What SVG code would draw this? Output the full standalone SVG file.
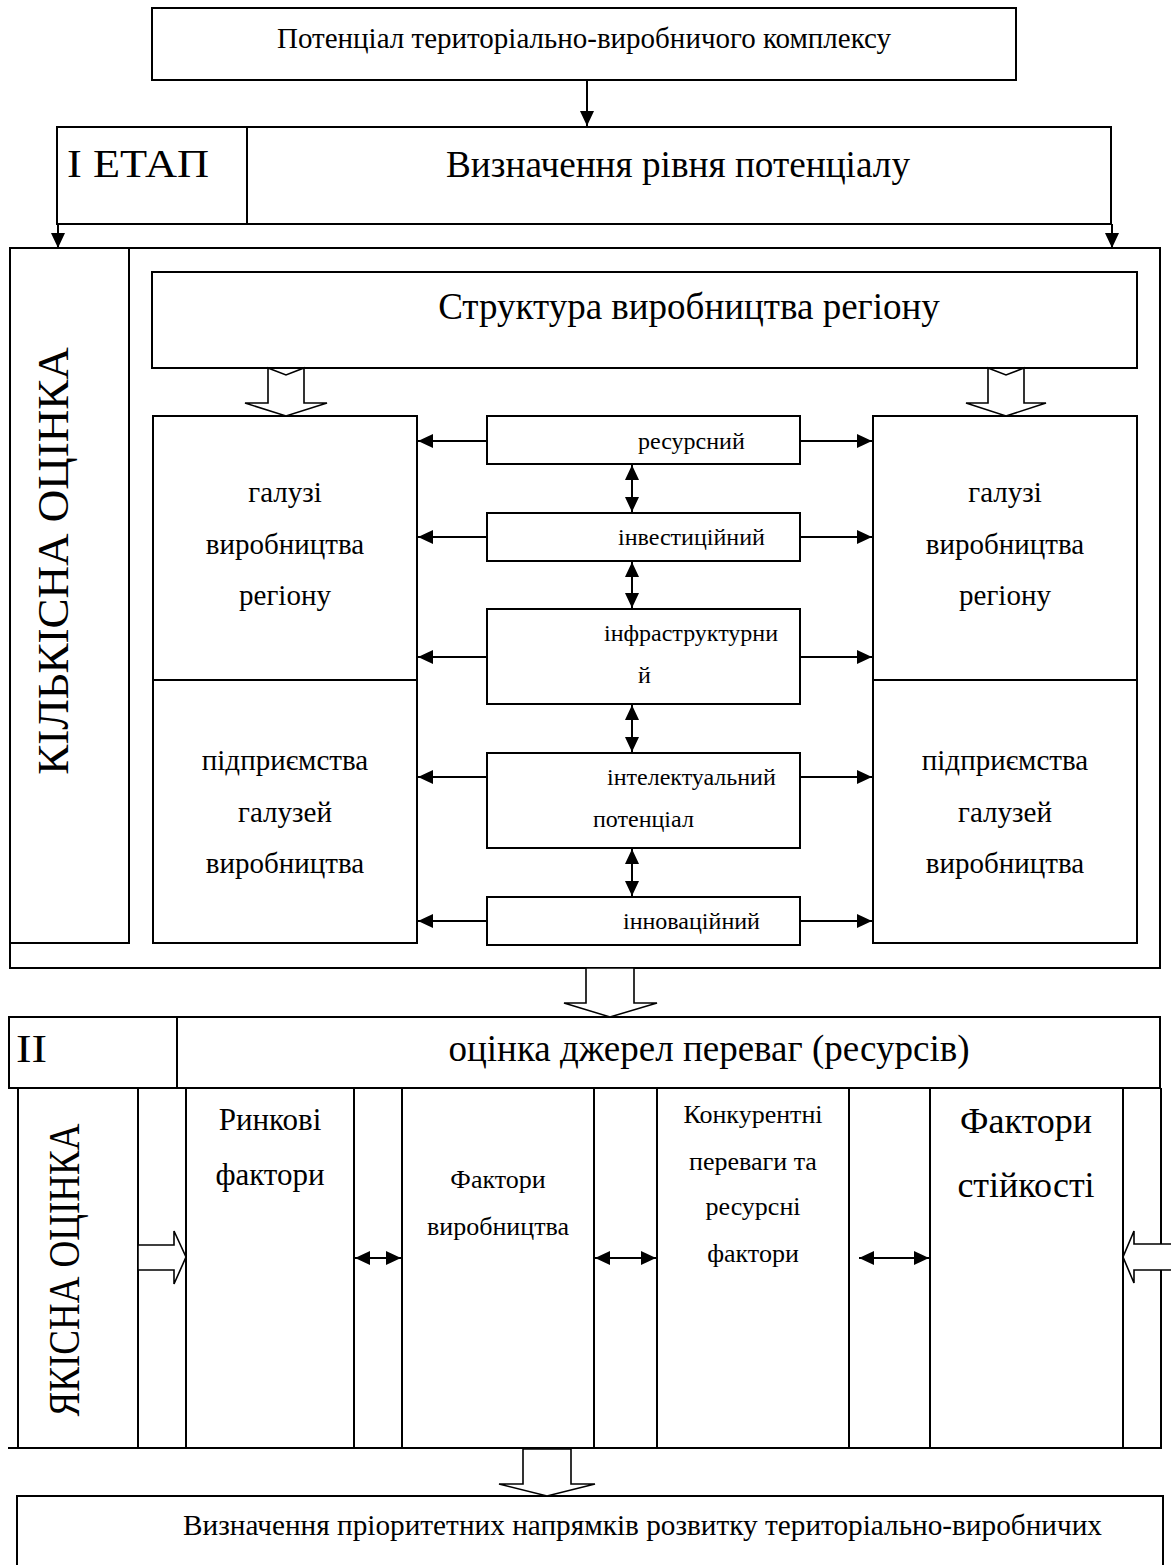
<svg xmlns="http://www.w3.org/2000/svg" width="1171" height="1565" viewBox="0 0 1171 1565">
<style>
.b{fill:none;stroke:#000;stroke-width:2}
.h{fill:#fff;stroke:#000;stroke-width:1.6}
.l{stroke:#000;stroke-width:2;fill:none}
text{font-family:"Liberation Serif","Times New Roman",serif;fill:#000}
.c{text-anchor:middle}
</style>
<defs>
<marker id="ah" markerUnits="userSpaceOnUse" markerWidth="16" markerHeight="14" refX="15" refY="7" orient="auto-start-reverse"><path d="M0,0 L15,7 L0,14 z" fill="#000"/></marker>
</defs>
<rect x="0" y="0" width="1171" height="1565" fill="#fff"/>

<g id="top"><rect class="b" x="152" y="8" width="864" height="72"/><text class="c" x="584" y="48" font-size="29">Потенціал територіально-виробничого комплексу</text></g>

<g id="stage1"><rect class="b" x="57" y="127" width="1054" height="97"/><line class="l" x1="247" y1="127" x2="247" y2="224"/><text class="c" x="138" y="177" font-size="40" textLength="142" lengthAdjust="spacingAndGlyphs">І ЕТАП</text><text class="c" x="678" y="177" font-size="38" textLength="464" lengthAdjust="spacingAndGlyphs">Визначення рівня потенціалу</text></g>

<g id="quant-frame"><rect class="b" x="10" y="248" width="1150" height="720"/><rect class="b" x="10" y="248" width="119" height="695"/><text transform="translate(68,561) rotate(-90)" class="c" font-size="45">КІЛЬКІСНА ОЦІНКА</text></g>

<g id="structure"><rect class="b" x="152" y="272" width="985" height="96"/><text class="c" x="689" y="319" font-size="37">Структура виробництва регіону</text></g>

<g id="left-branches"><rect class="b" x="153" y="416" width="264" height="264"/><text class="c" font-size="29" x="285"><tspan x="285" y="502">галузі</tspan><tspan x="285" y="554">виробництва</tspan><tspan x="285" y="605">регіону</tspan></text></g>
<g id="left-enterprises"><rect class="b" x="153" y="680" width="264" height="263"/><text class="c" font-size="29" x="285"><tspan x="285" y="770">підприємства</tspan><tspan x="285" y="822">галузей</tspan><tspan x="285" y="873">виробництва</tspan></text></g>
<g id="right-branches"><rect class="b" x="873" y="416" width="264" height="264"/><text class="c" font-size="29" x="1005"><tspan x="1005" y="502">галузі</tspan><tspan x="1005" y="554">виробництва</tspan><tspan x="1005" y="605">регіону</tspan></text></g>
<g id="right-enterprises"><rect class="b" x="873" y="680" width="264" height="263"/><text class="c" font-size="29" x="1005"><tspan x="1005" y="770">підприємства</tspan><tspan x="1005" y="822">галузей</tspan><tspan x="1005" y="873">виробництва</tspan></text></g>

<g id="resource"><rect class="b" x="487" y="416" width="313" height="48"/><text x="638" y="449" font-size="24">ресурсний</text></g>
<g id="investment"><rect class="b" x="487" y="513" width="313" height="48"/><text x="618" y="545" font-size="24">інвестиційний</text></g>
<g id="infrastructure"><rect class="b" x="487" y="609" width="313" height="95"/><text x="604" y="641" font-size="24">інфраструктурни</text><text x="638" y="683" font-size="24">й</text></g>
<g id="intellectual"><rect class="b" x="487" y="753" width="313" height="95"/><text x="607" y="785" font-size="24">інтелектуальний</text><text x="593" y="827" font-size="24">потенціал</text></g>
<g id="innovation"><rect class="b" x="487" y="897" width="313" height="48"/><text x="623" y="929" font-size="24">інноваційний</text></g>

<g id="stage2"><rect class="b" x="9" y="1017" width="1151" height="71"/><line class="l" x1="177" y1="1017" x2="177" y2="1088"/><text x="16" y="1062" font-size="40" textLength="31" lengthAdjust="spacingAndGlyphs">ІІ</text><text class="c" x="709" y="1061" font-size="37">оцінка джерел переваг (ресурсів)</text></g>

<g id="qual-frame"><line class="l" x1="8" y1="1448" x2="1162" y2="1448"/><line class="l" x1="1161" y1="1088" x2="1161" y2="1448"/><rect class="b" x="18" y="1088" width="120" height="360"/><text transform="translate(79,1270) scale(1.2,1) rotate(-90)" class="c" font-size="37">ЯКІСНА ОЦІНКА</text></g>
<g id="market"><rect class="b" x="186" y="1088" width="168" height="360"/><text class="c" font-size="31"><tspan x="270" y="1130">Ринкові</tspan><tspan x="270" y="1185">фактори</tspan></text></g>
<g id="production"><rect class="b" x="402" y="1088" width="192" height="360"/><text class="c" font-size="26"><tspan x="498" y="1188">Фактори</tspan><tspan x="498" y="1235">виробництва</tspan></text></g>
<g id="competitive"><rect class="b" x="657" y="1088" width="192" height="360"/><text class="c" font-size="26"><tspan x="753" y="1123">Конкурентні</tspan><tspan x="753" y="1170">переваги та</tspan><tspan x="753" y="1215">ресурсні</tspan><tspan x="753" y="1262">фактори</tspan></text></g>
<g id="stability"><rect class="b" x="930" y="1088" width="193" height="360"/><text class="c" font-size="36"><tspan x="1026" y="1133">Фактори</tspan><tspan x="1026" y="1197">стійкості</tspan></text></g>

<g id="result"><rect class="b" x="17" y="1496" width="1146" height="100"/><text x="183" y="1535" font-size="29" textLength="919" lengthAdjust="spacingAndGlyphs">Визначення пріоритетних напрямків розвитку територіально-виробничих</text></g>

<g id="connectors">
<line class="l" x1="587" y1="80" x2="587" y2="126" marker-end="url(#ah)"/>
<line class="l" x1="58" y1="224" x2="58" y2="248" marker-end="url(#ah)"/>
<line class="l" x1="1112" y1="224" x2="1112" y2="248" marker-end="url(#ah)"/>
<polygon class="h" points="268,368 286,375 304,368 304,403 327,403 286,416 245,403 268,403"/>
<polygon class="h" points="988,368 1006,375 1024,368 1024,403 1046,403 1006,416 966,403 988,403"/>
<line class="l" x1="487" y1="441" x2="418" y2="441" marker-end="url(#ah)"/>
<line class="l" x1="800" y1="441" x2="872" y2="441" marker-end="url(#ah)"/>
<line class="l" x1="487" y1="537" x2="418" y2="537" marker-end="url(#ah)"/>
<line class="l" x1="800" y1="537" x2="872" y2="537" marker-end="url(#ah)"/>
<line class="l" x1="487" y1="657" x2="418" y2="657" marker-end="url(#ah)"/>
<line class="l" x1="800" y1="657" x2="872" y2="657" marker-end="url(#ah)"/>
<line class="l" x1="487" y1="777" x2="418" y2="777" marker-end="url(#ah)"/>
<line class="l" x1="800" y1="777" x2="872" y2="777" marker-end="url(#ah)"/>
<line class="l" x1="487" y1="921" x2="418" y2="921" marker-end="url(#ah)"/>
<line class="l" x1="800" y1="921" x2="872" y2="921" marker-end="url(#ah)"/>
<line class="l" x1="632" y1="465" x2="632" y2="512" marker-start="url(#ah)" marker-end="url(#ah)"/>
<line class="l" x1="632" y1="562" x2="632" y2="608" marker-start="url(#ah)" marker-end="url(#ah)"/>
<line class="l" x1="632" y1="705" x2="632" y2="752" marker-start="url(#ah)" marker-end="url(#ah)"/>
<line class="l" x1="632" y1="849" x2="632" y2="896" marker-start="url(#ah)" marker-end="url(#ah)"/>
<polygon class="h" points="586,968 634,968 634,1003 657,1003 610,1017 564,1003 586,1003"/>
<polygon class="h" points="138,1245 174,1245 174,1231 186,1257 174,1284 174,1270 138,1270"/>
<polygon class="h" points="1175,1244 1134,1244 1134,1231 1123,1257 1134,1283 1134,1270 1175,1270"/>
<line class="l" x1="355" y1="1258" x2="401" y2="1258" marker-start="url(#ah)" marker-end="url(#ah)"/>
<line class="l" x1="595" y1="1258" x2="656" y2="1258" marker-start="url(#ah)" marker-end="url(#ah)"/>
<line class="l" x1="859" y1="1258" x2="929" y2="1258" marker-start="url(#ah)" marker-end="url(#ah)"/>
<polygon class="h" points="523,1449 571,1449 571,1484 595,1484 547,1496 499,1484 523,1484"/>
</g>
</svg>
